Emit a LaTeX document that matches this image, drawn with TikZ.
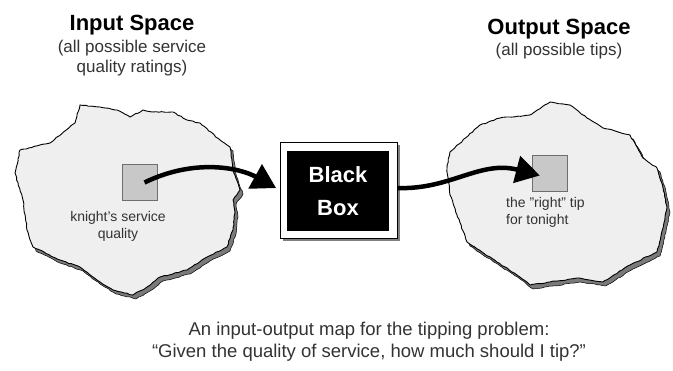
\documentclass[tikz,border=0pt]{standalone}
\usepackage{fontspec}
\setmainfont{Liberation Sans}
\usetikzlibrary{arrows.meta,decorations.pathmorphing,shadows}
\definecolor{cloudgray}{HTML}{EFEFEF}
\definecolor{cloudshadow}{HTML}{7A7A7A}
\definecolor{sqgray}{HTML}{C8C8C8}
\definecolor{sqline}{HTML}{6E6E6E}
\definecolor{txtgray}{HTML}{333333}
\begin{document}
\begin{tikzpicture}[x=1pt,y=-1pt,
  title/.style={font=\bfseries\fontsize{22}{24}\selectfont, inner sep=0pt},
  subtitle/.style={font=\fontsize{17}{20}\selectfont, align=center, inner sep=0pt, text=txtgray},
  caption/.style={font=\fontsize{18.5}{22}\selectfont, align=center, inner sep=0pt, text=txtgray},
  smalltxt/.style={font=\fontsize{14}{17}\selectfont, inner sep=0pt, text=txtgray},
  sq/.style={draw=sqline, fill=sqgray, line width=0.8pt, minimum width=35pt, minimum height=36pt, inner sep=0pt},
  cloudline/.style={fill=cloudgray, draw=black, line width=0.9pt, decorate, decoration={random steps, segment length=3pt, amplitude=0.5pt}},
  cloudshad/.style={fill=cloudshadow, draw=black, line width=0.5pt, decorate, decoration={random steps, segment length=3pt, amplitude=0.5pt}},
  bigarrow/.style={line width=4.5pt, -{Triangle[length=24pt,width=27pt]}},
  frame/.style={draw=black, fill=white, line width=0.8pt, minimum width=117pt, minimum height=96pt, inner sep=0pt,
     drop shadow={shadow xshift=3pt, shadow yshift=-3pt, fill=gray, opacity=1}},
  blackbox/.style={fill=black, minimum width=102pt, minimum height=80pt, inner sep=0pt, text=white,
     font=\bfseries\fontsize{22}{33}\selectfont, align=center}
]
\pgfmathsetseed{7}
\useasboundingbox (0,0) rectangle (673,371);
\fill[white] (0,0) rectangle (673,371);

\def\leftcloud{(80,105) -- (100,107) -- (117,110) -- (130,117) -- (143,110) -- (153,112) -- (173,112) -- (187,120) -- (200,123) -- (220,140) -- (230,147) -- (233,170) -- (240,190) -- (233,200) -- (235,213) -- (233,230) -- (227,247) -- (207,257) -- (187,270) -- (160,277) -- (147,287) -- (133,295) -- (113,290) -- (97,280) -- (80,267) -- (60,260) -- (33,247) -- (27,230) -- (23,200) -- (15,173) -- (20,150) -- (50,143) -- (75,123) -- cycle}
\def\rightcloud{(550,102) -- (570,105) -- (587,118) -- (603,128) -- (630,135) -- (643,158) -- (657,168) -- (663,188) -- (667,208) -- (663,228) -- (657,252) -- (630,265) -- (603,282) -- (577,278) -- (550,282) -- (530,285) -- (517,275) -- (497,262) -- (467,242) -- (457,215) -- (450,195) -- (447,168) -- (450,152) -- (480,125) -- (500,118) -- (530,115) -- cycle}

% clouds
\begin{scope}[shift={(3,4)}]
  \path[cloudshad] \leftcloud;
  \path[cloudshad] \rightcloud;
\end{scope}
\path[cloudline] \leftcloud;
\path[cloudline] \rightcloud;

% titles
\node[title] (intitle) at (132,25) {Input Space};
\node[subtitle] (insub) at (132,58) {(all possible service\\quality ratings)};
\node[title] (outtitle) at (559,29) {Output Space};
\node[subtitle] (outsub) at (559,51) {(all possible tips)};

% squares and labels
\node[sq] (lsq) at (139.5,182.5) {};
\node[smalltxt, align=center] (ltxt) at (118,226) {knight's service\\quality};
\node[sq] (rsq) at (550,173.5) {};
\node[smalltxt, align=left, anchor=west] (rtxt) at (506,212) {the "right" tip\\for tonight};

% black box
\node[frame] (frame) at (338.5,190) {};
\node[blackbox] (box) at (338,191) {Black\\Box};

% arrows
\draw[bigarrow, shorten >=4pt] ([xshift=5pt]lsq.center) .. controls (195,158) and (240,168) .. (frame.west);
\draw[bigarrow, shorten >=-8pt] ([yshift=2pt]frame.east) .. controls (450,190) and (480,160) .. (rsq.west);

% caption
\node[caption] (cap) at (369,342) {An input-output map for the tipping problem:\\``Given the quality of service, how much should I tip?''};
\end{tikzpicture}
\end{document}
